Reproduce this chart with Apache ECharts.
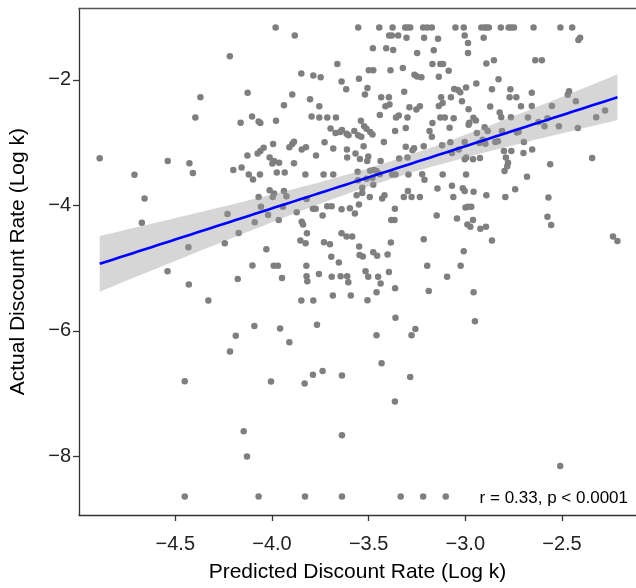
<!DOCTYPE html>
<html><head><meta charset="utf-8">
<script src="https://cdn.jsdelivr.net/npm/echarts@6/dist/echarts.min.js"></script>
<style>html,body{margin:0;padding:0;background:#fff}#c{width:636px;height:588px}</style>
</head><body><div id="c"></div>
<script>
// [predicted log k, actual log k] pairs
const observations = [
[-4.218,-1.623],[-4.126,-2.203],[-4.370,-2.277],[-4.396,-2.599],[-4.103,-2.583],[-4.162,-2.683],[-4.069,-2.662],[-4.060,-2.688],
[-4.891,-3.248],[-4.539,-3.290],[-4.427,-3.327],[-4.409,-3.485],[-4.711,-3.511],[-4.200,-3.437],[-4.157,-3.395],[-4.127,-3.205],
[-4.074,-3.174],[-4.060,-3.131],[-4.043,-3.079],[-4.120,-3.506],[-4.098,-3.585],[-4.062,-3.506],
[-4.659,-3.891],[-4.673,-4.276],[-4.069,-3.864],[-4.057,-4.022],[-4.230,-4.138],[-4.089,-4.270],[-4.172,-4.439],[-4.244,-4.603],
[-4.432,-4.666],[-4.540,-5.051],[-4.101,-4.956],[-4.177,-5.172],[-4.430,-5.262],[-4.329,-5.515],[-4.091,-5.921],[-4.187,-6.079],
[-4.217,-6.327],[-4.451,-6.802],[-4.146,-7.598],[-4.129,-8.000],[-4.451,-8.638],[-4.069,-8.638],
[-4.005,-6.807],[-3.831,-6.839],[-3.788,-6.697],[-3.738,-6.639],[-3.638,-6.712],[-3.638,-7.662],[-3.433,-6.517],[-3.285,-6.734],
[-3.364,-7.124],[-3.829,-8.638],[-3.638,-8.638],[-3.334,-8.638],[-3.218,-8.638],[-3.101,-8.638],[-2.509,-8.152],
[-3.069,-3.685],[-3.013,-3.727],[-3.003,-3.769],[-2.957,-3.780],[-3.062,-3.864],[-2.891,-3.838],[-2.793,-3.864],[-2.742,-3.743],
[-2.570,-3.875],[-2.999,-4.033],[-2.986,-4.022],[-2.969,-4.022],[-3.043,-4.207],[-2.960,-4.233],[-2.989,-4.302],[-2.974,-4.339],
[-2.922,-4.371],[-2.893,-4.339],[-2.862,-4.560],[-2.575,-4.181],[-2.556,-4.313],[-2.236,-4.497],[-2.213,-4.566],[-3.008,-4.729],
[-3.024,-4.961],[-3.094,-5.135],[-2.957,-5.383],[-2.950,-5.847],
[-4.012,-3.759],[-3.989,-3.811],[-3.996,-3.864],[-3.938,-3.769],[-3.925,-3.854],[-4.020,-4.154],[-3.943,-4.022],[-3.872,-4.107],
[-3.821,-3.896],[-3.965,-4.233],[-3.788,-4.054],[-3.774,-4.054],[-3.738,-4.160],[-3.714,-4.012],[-3.691,-4.012],[-3.640,-4.059],
[-3.597,-4.043],[-3.571,-4.128],[-3.550,-3.985],[-3.562,-3.838],[-3.533,-3.801],[-3.533,-3.717],[-3.476,-3.669],[-3.494,-3.864],
[-3.430,-3.891],[-3.418,-3.838],[-3.364,-4.054],[-3.383,-4.233],[-3.366,-4.233],[-3.318,-3.864],[-3.297,-3.769],[-3.278,-3.864],
[-3.235,-3.864],[-3.144,-3.732],[-3.148,-4.160],[-3.846,-4.260],[-3.839,-4.302],[-3.819,-4.444],[-3.853,-4.560],[-3.826,-4.603],
[-4.029,-4.697],[-3.731,-4.587],[-3.700,-4.618],[-3.640,-4.444],[-3.614,-4.497],[-3.585,-4.497],[-3.549,-4.655],[-3.547,-4.792],
[-3.530,-4.814],[-3.476,-4.745],[-3.456,-4.803],[-3.402,-4.782],[-3.385,-4.592],[-3.215,-4.539],[-3.693,-4.819],[-3.654,-4.908],
[-3.991,-4.961],[-3.969,-4.961],[-3.822,-4.961],[-3.948,-5.156],[-3.821,-5.130],[-3.817,-5.209],[-3.757,-5.093],[-3.691,-5.135],
[-3.645,-5.130],[-3.611,-5.130],[-3.605,-5.225],[-3.516,-5.051],[-3.502,-5.135],[-3.451,-5.135],[-3.395,-5.061],[-3.438,-5.246],
[-3.363,-5.320],[-3.459,-5.383],[-3.197,-4.961],[-3.189,-5.362],[-3.848,-5.515],[-3.786,-5.515],[-3.685,-5.436],[-3.592,-5.436],
[-3.506,-5.510],[-3.361,-5.789],[-3.958,-5.963],[-3.767,-5.900],[-3.459,-6.069],[-3.278,-6.069],[-3.258,-5.969],[-3.910,-6.179],
[-3.555,-3.600],[-3.511,-3.574],[-3.480,-3.558],[-3.211,-3.590],
[-3.981,-1.164],[-3.554,-1.164],[-3.445,-1.164],[-3.376,-1.164],[-3.311,-1.164],[-3.299,-1.164],[-3.285,-1.164],[-3.218,-1.164],
[-3.197,-1.164],[-3.173,-1.164],
[-3.882,-1.291],[-3.394,-1.291],[-3.380,-1.291],[-3.347,-1.291],[-3.304,-1.328],[-3.213,-1.328],[-3.141,-1.343],[-3.478,-1.496],
[-3.409,-1.496],[-3.373,-1.523],[-3.249,-1.570],[-3.163,-1.528],[-3.662,-1.744],[-3.499,-1.845],[-3.476,-1.845],[-3.387,-1.845],
[-3.323,-1.808],[-3.170,-1.744],[-3.129,-1.744],[-3.115,-1.744],[-3.848,-1.897],[-3.786,-1.929],[-3.748,-1.955],[-3.640,-2.024],
[-3.550,-1.982],[-3.263,-1.918],[-3.249,-1.945],[-3.227,-1.955],[-3.137,-1.950],[-3.616,-2.150],[-3.506,-2.129],[-3.519,-2.230],
[-3.316,-2.187],[-3.895,-2.230],[-3.803,-2.309],[-3.755,-2.419],[-3.938,-2.404],[-3.435,-2.277],[-3.395,-2.277],[-3.413,-2.419],
[-3.392,-2.393],[-3.289,-2.435],[-3.253,-2.472],[-3.235,-2.419],[-3.125,-2.277],[-3.137,-2.414],[-3.117,-2.367],[-3.979,-2.651],
[-3.795,-2.583],[-3.755,-2.599],[-3.714,-2.599],[-3.669,-2.599],[-3.540,-2.651],[-3.442,-2.557],[-3.358,-2.599],[-3.344,-2.567],
[-3.299,-2.599],[-3.129,-2.599],[-3.106,-2.599],[-3.170,-2.688],[-3.697,-2.773],[-3.671,-2.847],[-3.648,-2.831],[-3.638,-2.799],
[-3.614,-2.857],[-3.604,-2.883],[-3.574,-2.815],[-3.554,-2.883],[-3.538,-2.905],[-3.523,-2.736],[-3.511,-2.778],[-3.492,-2.831],
[-3.480,-2.868],[-3.363,-2.815],[-3.308,-2.767],[-3.185,-2.815],[-3.173,-2.905],[-3.994,-3.021],[-3.895,-3.021],[-3.886,-2.984],
[-3.910,-3.073],[-3.846,-3.110],[-3.824,-3.073],[-3.772,-3.205],[-3.728,-2.994],[-3.683,-3.094],[-3.612,-3.110],[-3.526,-3.058],
[-3.421,-2.989],[-3.308,-3.063],[-3.265,-3.089],[-3.273,-3.121],[-3.215,-3.058],[-3.120,-3.042],[-4.012,-3.237],[-3.989,-3.290],
[-3.963,-3.321],[-3.998,-3.332],[-3.886,-3.327],[-3.611,-3.237],[-3.568,-3.174],[-3.545,-3.258],[-3.502,-3.221],[-3.507,-3.290],
[-3.438,-3.290],[-3.342,-3.253],[-3.299,-3.237],[-3.975,-3.474],[-3.934,-3.474],[-3.827,-3.506],[-3.733,-3.506],[-3.683,-3.506],
[-3.557,-3.464],[-3.492,-3.448],[-3.473,-3.437],[-3.459,-3.453],[-3.442,-3.501],[-3.378,-3.506],[-3.361,-3.506],[-3.294,-3.506],
[-3.223,-3.501],[-3.117,-3.506],
[-3.051,-1.164],[-3.008,-1.164],[-2.917,-1.164],[-2.900,-1.164],[-2.890,-1.164],[-2.878,-1.164],[-2.816,-1.164],[-2.776,-1.164],
[-2.762,-1.164],[-2.748,-1.164],[-2.647,-1.164],[-2.508,-1.164],[-2.447,-1.164],
[-3.003,-1.291],[-2.905,-1.328],[-2.986,-1.412],[-2.986,-1.570],[-2.406,-1.328],[-2.415,-1.365],[-2.891,-1.739],[-2.852,-1.686],
[-2.638,-1.686],[-2.604,-1.686],[-3.086,-1.855],[-2.828,-1.987],[-2.943,-2.055],[-2.996,-2.119],[-3.057,-2.145],[-3.038,-2.161],
[-3.026,-2.198],[-3.074,-2.277],[-3.017,-2.340],[-2.862,-2.150],[-2.767,-2.150],[-2.771,-2.277],[-2.736,-2.277],[-2.656,-2.203],
[-2.463,-2.182],[-2.470,-2.235],[-2.712,-2.419],[-2.656,-2.414],[-2.552,-2.414],[-2.428,-2.340],[-2.277,-2.488],[-2.323,-2.593],
[-2.871,-2.425],[-2.983,-2.467],[-2.822,-2.520],[-2.814,-2.593],[-3.060,-2.609],[-2.958,-2.604],[-2.945,-2.646],[-2.983,-2.715],
[-2.979,-2.683],[-2.764,-2.593],[-2.676,-2.599],[-2.575,-2.609],[-2.621,-2.672],[-2.590,-2.736],[-2.516,-2.736],[-2.418,-2.767],
[-3.081,-2.762],[-2.900,-2.752],[-2.884,-2.815],[-2.940,-2.847],[-2.810,-2.815],[-2.733,-2.836],[-2.724,-2.825],[-2.910,-2.952],
[-3.003,-2.989],[-2.927,-3.005],[-2.896,-3.015],[-2.845,-2.989],[-2.831,-2.978],[-3.077,-2.994],[-2.697,-2.989],[-3.069,-3.163],
[-3.034,-3.110],[-2.995,-3.237],[-3.003,-3.263],[-2.960,-3.263],[-2.924,-3.242],[-2.800,-3.131],[-2.762,-3.131],[-2.790,-3.237],
[-2.779,-3.321],[-2.783,-3.374],[-2.699,-3.163],[-2.654,-3.110],[-2.561,-3.342],[-2.344,-3.242],[-2.996,-3.506],[-2.797,-3.453],
[-2.681,-3.543]
];
const xTicks = [-4.5, -4.0, -3.5, -3.0, -2.5];
const yTicks = [-8, -6, -4, -2];
const xTitle = 'Predicted Discount Rate (Log k)';
const yTitle = 'Actual Discount Rate (Log k)';
const statLabel = 'r = 0.33, p < 0.0001';

// linear model with 95% confidence band (as geom_smooth(method = "lm"))
const n = observations.length;
let mx = 0, my = 0;
observations.forEach(([x, y]) => { mx += x; my += y; });
mx /= n; my /= n;
let sxx = 0, sxy = 0;
observations.forEach(([x, y]) => { sxx += (x - mx) * (x - mx); sxy += (x - mx) * (y - my); });
const slope = sxy / sxx, icpt = my - slope * mx;
let sse = 0;
observations.forEach(([x, y]) => { const r = y - (icpt + slope * x); sse += r * r; });
const sRes = Math.sqrt(sse / (n - 2));
const tCrit = 1.9654;
const xsAll = observations.map(p => p[0]);
const xLo = Math.min(...xsAll), xHi = Math.max(...xsAll);
const fit = [], upper = [], lower = [];
for (let i = 0; i <= 80; i++) {
  const x = xLo + (xHi - xLo) * i / 80;
  const yh = icpt + slope * x;
  const se = sRes * Math.sqrt(1 / n + (x - mx) * (x - mx) / sxx);
  fit.push([x, yh]); upper.push([x, yh + tCrit * se]); lower.push([x, yh - tCrit * se]);
}

const FONT = '"Liberation Sans", Arial, Helvetica, sans-serif';
const minus = v => String(v).replace('-', '\u2212');
const chart = echarts.init(document.getElementById('c'));
chart.setOption({
  animation: false,
  backgroundColor: '#ffffff',
  textStyle: { fontFamily: FONT },
  title: {
    text: statLabel, right: 8, top: 490, padding: 0,
    textStyle: { fontFamily: FONT, fontSize: 17, fontWeight: 'normal', color: '#000' }
  },
  grid: { left: 78, right: 0, top: 8.3, bottom: 69.3, containLabel: false },
  xAxis: [{
    type: 'value', min: -4.998, max: -2.117,
    axisLine: { show: true, onZero: false, lineStyle: { color: '#333', width: 1.3 } },
    axisTick: { show: true, customValues: xTicks, length: 6, lineStyle: { color: '#333', width: 1.3 } },
    axisLabel: { customValues: xTicks, formatter: v => minus(v.toFixed(1)), fontSize: 20, color: '#222', margin: 19, fontFamily: FONT },
    splitLine: { show: false },
    name: xTitle, nameLocation: 'middle', nameGap: 47,
    nameTextStyle: { fontSize: 21, color: '#000', fontFamily: FONT }
  }, {
    type: 'value', position: 'top', min: -4.998, max: -2.117,
    axisLine: { show: true, onZero: false, lineStyle: { color: '#555', width: 1.3 } },
    axisTick: { show: false }, axisLabel: { show: false }, splitLine: { show: false }
  }],
  yAxis: {
    type: 'value', min: -8.934, max: -0.858,
    axisLine: { show: true, onZero: false, lineStyle: { color: '#333', width: 1.3 } },
    axisTick: { show: true, customValues: yTicks, length: 6, lineStyle: { color: '#333', width: 1.3 } },
    axisLabel: { customValues: yTicks, formatter: v => minus(v), fontSize: 20, color: '#222', margin: 8, fontFamily: FONT },
    splitLine: { show: false },
    name: yTitle, nameLocation: 'middle', nameGap: 50,
    nameTextStyle: { fontSize: 21, color: '#000', fontFamily: FONT }
  },
  series: [{
    type: 'scatter', data: observations, symbolSize: 6.5,
    itemStyle: { color: '#7f7f7f', opacity: 1 }, z: 2, silent: true
  }, {
    type: 'custom', data: [fit[0]], z: 3, silent: true,
    renderItem: (params, api) => {
      const pts = upper.map(p => api.coord(p)).concat(lower.slice().reverse().map(p => api.coord(p)));
      return { type: 'polygon', shape: { points: pts }, style: { fill: 'rgba(153,153,153,0.4)' } };
    }
  }, {
    type: 'line', data: fit, symbol: 'none', z: 4, silent: true,
    lineStyle: { color: '#0000ff', width: 2.6 }
  }]
});
</script>
</body></html>
